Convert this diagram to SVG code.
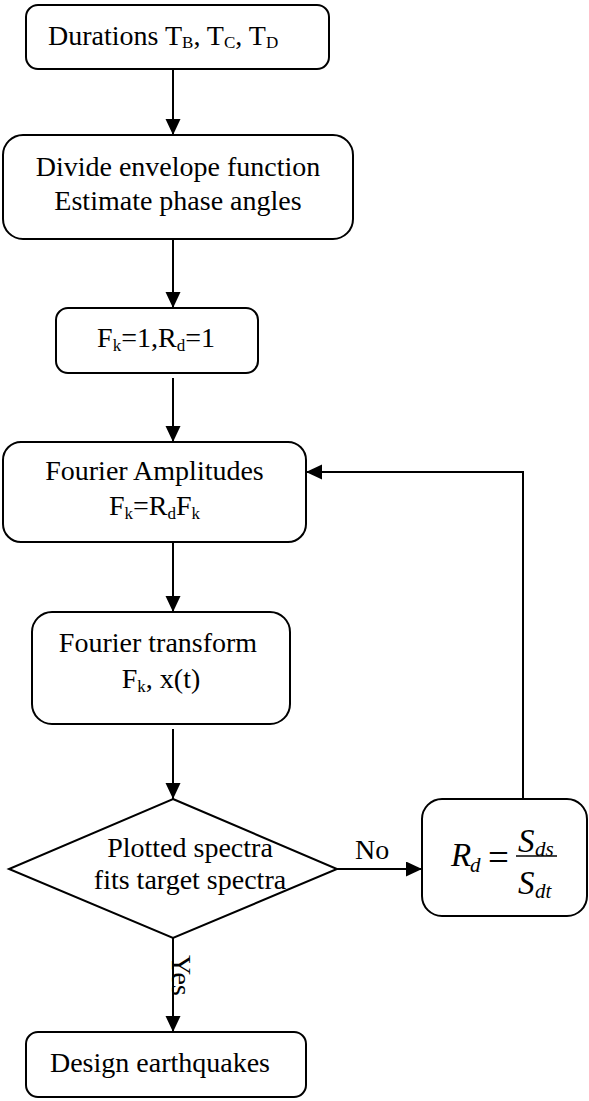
<svg xmlns="http://www.w3.org/2000/svg" width="589" height="1101" viewBox="0 0 589 1101">
  <style>
    .box { fill: #ffffff; stroke: #000000; stroke-width: 2; }
    .link { fill: none; stroke: #000000; stroke-width: 2; }
    .t { font-family: "Liberation Serif", "Times New Roman", serif; font-size: 28px; fill: #000000; }
    .m { font-family: "Liberation Serif", "Times New Roman", serif; font-style: italic; fill: #000000; }
    .eq { font-family: "Liberation Serif", "Times New Roman", serif; font-size: 37px; fill: #000000; }
    .sub { font-size: 17px; }
  </style>
  <defs>
    <marker id="arrow" markerUnits="userSpaceOnUse" markerWidth="17" markerHeight="16" refX="16" refY="7.5" orient="auto">
      <path d="M0,0 L16,7.5 L0,15 Z" fill="#000000"/>
    </marker>
  </defs>

  <!-- connectors -->
  <g id="connectors">
    <line class="link" x1="173" y1="69" x2="173" y2="135" marker-end="url(#arrow)"/>
    <line class="link" x1="173" y1="239" x2="173" y2="308" marker-end="url(#arrow)"/>
    <line class="link" x1="173" y1="378" x2="173" y2="442" marker-end="url(#arrow)"/>
    <line class="link" x1="173" y1="542" x2="173" y2="612" marker-end="url(#arrow)"/>
    <line class="link" x1="173" y1="729" x2="173" y2="799" marker-end="url(#arrow)"/>
    <line class="link" x1="337" y1="869" x2="422" y2="869" marker-end="url(#arrow)"/>
    <line class="link" x1="173" y1="938" x2="173" y2="1032" marker-end="url(#arrow)"/>
    <polyline class="link" points="523,799 523,472 306,472" marker-end="url(#arrow)"/>
    <text class="t" x="355" y="859">No</text>
    <text class="t" transform="translate(172,955) rotate(90)">Yes</text>
  </g>

  <!-- start: durations -->
  <g id="durations">
    <rect class="box" x="26" y="5" width="303" height="64" rx="12"/>
    <text class="t" x="48" y="45">Durations T<tspan class="sub" dy="3">B</tspan><tspan dy="-3">, T</tspan><tspan class="sub" dy="3">C</tspan><tspan dy="-3">, T</tspan><tspan class="sub" dy="3">D</tspan></text>
  </g>

  <!-- envelope and phase -->
  <g id="envelope">
    <rect class="box" x="3" y="135" width="350" height="104" rx="20"/>
    <text class="t" x="178" y="176" text-anchor="middle">Divide envelope function</text>
    <text class="t" x="178" y="210" text-anchor="middle">Estimate phase angles</text>
  </g>

  <!-- initial factors -->
  <g id="init">
    <rect class="box" x="56" y="308" width="202" height="65" rx="12"/>
    <text class="t" x="156" y="347" text-anchor="middle">F<tspan class="sub" dy="4">k</tspan><tspan dy="-4">=1,R</tspan><tspan class="sub" dy="4">d</tspan><tspan dy="-4">=1</tspan></text>
  </g>

  <!-- Fourier amplitudes -->
  <g id="amplitudes">
    <rect class="box" x="3" y="442" width="303" height="100" rx="18"/>
    <text class="t" x="154.5" y="480" text-anchor="middle">Fourier Amplitudes</text>
    <text class="t" x="154.5" y="515" text-anchor="middle">F<tspan class="sub" dy="4">k</tspan><tspan dy="-4">=R</tspan><tspan class="sub" dy="4">d</tspan><tspan dy="-4">F</tspan><tspan class="sub" dy="4">k</tspan></text>
  </g>

  <!-- Fourier transform -->
  <g id="transform">
    <rect class="box" x="32" y="612" width="258" height="112" rx="20"/>
    <text class="t" x="158" y="652" text-anchor="middle">Fourier transform</text>
    <text class="t" x="161" y="688" text-anchor="middle">F<tspan class="sub" dy="4">k</tspan><tspan dy="-4">, x(t)</tspan></text>
  </g>

  <!-- decision -->
  <g id="decision">
    <polygon class="box" points="173,799 337,869 173,938 9,869"/>
    <text class="t" x="190" y="857" text-anchor="middle">Plotted spectra</text>
    <text class="t" x="190" y="889" text-anchor="middle">fits target spectra</text>
  </g>

  <!-- ratio update: Rd = Sds / Sdt -->
  <g id="ratio">
    <rect class="box" x="422" y="799" width="165" height="117" rx="20"/>
    <text class="m" x="451" y="866" font-size="33">R</text>
    <text class="m" x="470" y="872" font-size="21">d</text>
    <text class="eq" x="488" y="870">=</text>
    <line x1="516" y1="856" x2="557" y2="856" stroke="#000000" stroke-width="1.5"/>
    <text class="m" x="518" y="852" font-size="33">S</text>
    <text class="m" x="535" y="856" font-size="21">ds</text>
    <text class="m" x="518" y="894" font-size="33">S</text>
    <text class="m" x="535" y="898" font-size="21">dt</text>
  </g>

  <!-- end: design earthquakes -->
  <g id="design">
    <rect class="box" x="26" y="1032" width="280" height="65" rx="12"/>
    <text class="t" x="160" y="1072" text-anchor="middle">Design earthquakes</text>
  </g>
</svg>
